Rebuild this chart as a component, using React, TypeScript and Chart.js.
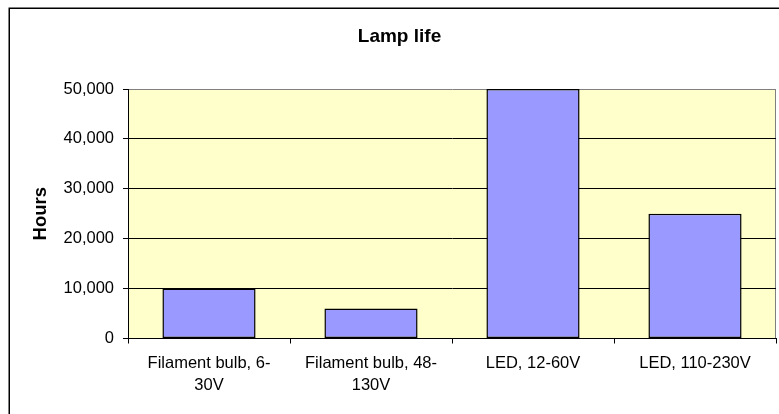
import React, { useEffect, useRef } from "react";
import { Chart, registerables } from "chart.js";

Chart.register(...registerables);

const chartTitle = "Lamp life";
const yAxisTitle = "Hours";
const categories: (string | string[])[] = [
  ["Filament bulb, 6-", "30V"],
  ["Filament bulb, 48-", "130V"],
  "LED, 12-60V",
  "LED, 110-230V",
];
const hours = [10000, 6000, 50000, 25000];
const yMin = 0;
const yMax = 50000;
const yStep = 10000;

const FONT = "'Liberation Sans', Arial, sans-serif";

const framePlugin = {
  id: "frame",
  beforeDraw(chart: any) {
    const { ctx, chartArea: a } = chart;
    ctx.save();
    ctx.fillStyle = "#ffffff";
    ctx.fillRect(0, 0, chart.width, chart.height);
    ctx.strokeStyle = "#000000";
    ctx.lineWidth = 1.5;
    ctx.strokeRect(9.25, 8.25, chart.width + 20, chart.height + 20);
    ctx.fillStyle = "#FFFFCC";
    ctx.fillRect(a.left, a.top, a.right - a.left, a.bottom - a.top);
    ctx.strokeStyle = "#808080";
    ctx.lineWidth = 1;
    ctx.beginPath();
    ctx.moveTo(a.right - 0.5, a.top);
    ctx.lineTo(a.right - 0.5, a.bottom);
    ctx.stroke();
    ctx.restore();
  },
};

export default function App() {
  const ref = useRef<HTMLCanvasElement | null>(null);
  useEffect(() => {
    if (!ref.current) return;
    const chart = new Chart(ref.current, {
      type: "bar",
      data: {
        labels: categories,
        datasets: [
          {
            label: yAxisTitle,
            data: hours,
            backgroundColor: "#9999FF",
            borderColor: "#000000",
            borderWidth: 1.5,
            borderSkipped: false,
            barPercentage: 0.575,
            categoryPercentage: 1,
          },
        ],
      },
      options: {
        animation: false,
        responsive: true,
        maintainAspectRatio: false,
        layout: { padding: { left: 23, right: 3, top: 0, bottom: 0 } },
        plugins: {
          legend: { display: false },
          tooltip: { enabled: false },
          title: {
            display: true,
            text: chartTitle,
            color: "#000",
            font: { family: FONT, size: 19, weight: "bold", lineHeight: 1.2 },
            padding: { top: 25, bottom: 41.2 },
          },
        },
        scales: {
          x: {
            afterFit: (s: any) => {
              s.height = 75.5;
            },
            grid: {
              display: true,
              drawOnChartArea: false,
              drawTicks: true,
              tickLength: 5,
              tickColor: "#000",
              offset: true,
            },
            border: { display: true, color: "#000", width: 1 },
            ticks: {
              color: "#000",
              font: { family: FONT, size: 16.5, lineHeight: 1.33 },
              padding: 8.8,
              maxRotation: 0,
              autoSkip: false,
            },
          },
          y: {
            min: yMin,
            max: yMax,
            afterFit: (s: any) => {
              s.width = 105;
            },
            grid: {
              color: (c: any) => (c.tick && c.tick.value === yMax ? "#808080" : "#000000"),
              tickColor: "#000",
              tickLength: 5,
              lineWidth: 1,
            },
            border: { display: true, color: "#000", width: 1 },
            ticks: {
              stepSize: yStep,
              color: "#000",
              padding: 9,
              font: { family: FONT, size: 16.5 },
              callback: (v: any) => Number(v).toLocaleString("en-US"),
            },
            title: {
              display: true,
              text: yAxisTitle,
              color: "#000",
              font: { family: FONT, size: 18.5, weight: "bold", lineHeight: 1.2 },
              padding: { top: 6.7, bottom: 0 },
            },
          },
        },
      },
      plugins: [framePlugin],
    } as any);
    return () => chart.destroy();
  }, []);

  return (
    <div style={{ position: "absolute", left: 0, top: 0, width: 779, height: 414, background: "#fff" }}>
      <canvas ref={ref} />
    </div>
  );
}
